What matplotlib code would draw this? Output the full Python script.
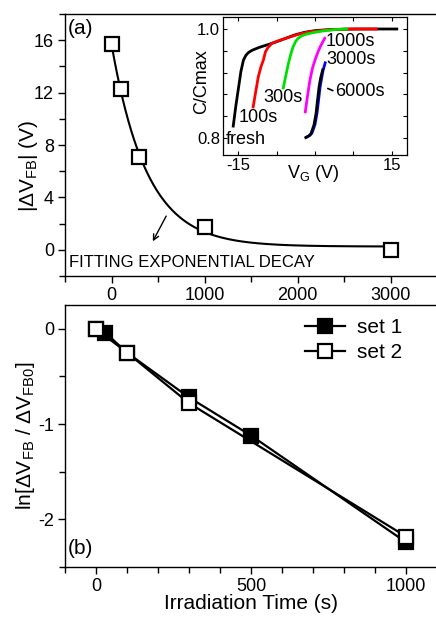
import numpy as np
import matplotlib
matplotlib.use("Agg")
import matplotlib.pyplot as plt
from matplotlib.ticker import MultipleLocator, FixedLocator

plt.rcParams['font.family'] = ['Liberation Sans', 'DejaVu Sans']
plt.rcParams['mathtext.fontset'] = 'custom'
plt.rcParams['mathtext.rm'] = 'Liberation Sans'
plt.rcParams['mathtext.it'] = 'Liberation Sans:italic'
plt.rcParams['mathtext.bf'] = 'Liberation Sans:bold'
plt.rcParams['axes.unicode_minus'] = False

# ---- panel (a) data ----
time_a = [0, 100, 300, 1000, 3000]
dvfb_a = [15.7, 12.3, 7.05, 1.76, 0.0]
fit_y0 = 0.25
fit_amp = 15.45
fit_tau = 380.0

# ---- inset C-V data ----
v_fresh = [-16.0, -15.5, -15.0, -14.5, -14.0, -13.5, -13.0, -12.3, -11.0, -10.0, -8.0, -6.0, -4.0, -2.0, 0.0, 3.0, 8.0, 16.0]
c_fresh = [0.822, 0.858, 0.890, 0.922, 0.943, 0.952, 0.957, 0.961, 0.966, 0.969, 0.975, 0.982, 0.989, 0.994, 0.997, 0.999, 1.0, 1.0]
v_100 = [-12.1, -11.6, -11.1, -10.6, -10.1, -9.7, -9.2, -8.4, -7.0, -5.0, -3.0, -1.0, 2.0, 6.0, 12.0]
c_100 = [0.857, 0.885, 0.912, 0.930, 0.943, 0.958, 0.966, 0.974, 0.979, 0.985, 0.991, 0.995, 0.998, 1.0, 1.0]
v_300 = [-6.2, -5.7, -5.2, -4.7, -4.3, -3.8, -3.3, -2.5, -1.5, 0.0, 2.0, 4.0, 6.2]
c_300 = [0.892, 0.915, 0.937, 0.955, 0.967, 0.977, 0.983, 0.988, 0.991, 0.994, 0.997, 0.999, 1.0]
v_1000 = [-1.9, -1.5, -1.0, -0.5, 0.0, 0.5, 1.0, 1.5, 1.9]
c_1000 = [0.848, 0.875, 0.906, 0.928, 0.943, 0.956, 0.967, 0.976, 0.983]
v_3000 = [-1.6, -1.0, -0.6, 0.0, 0.4, 0.7, 1.0, 1.3, 1.6, 2.0]
c_3000 = [0.802, 0.805, 0.809, 0.825, 0.846, 0.870, 0.894, 0.910, 0.925, 0.938]
v_6000 = [-1.8, -1.2, -0.8, -0.2, 0.2, 0.5, 0.8, 1.1, 1.5]
c_6000 = [0.801, 0.804, 0.808, 0.824, 0.845, 0.870, 0.894, 0.910, 0.925]
inset_xticks = [-15, 15]

# ---- panel (b) data ----
time_set1 = [0, 30, 100, 300, 500, 1000]
ln_set1 = [0.0, -0.04, -0.25, -0.72, -1.12, -2.24]
time_set2 = [0, 100, 300, 1000]
ln_set2 = [0.0, -0.25, -0.78, -2.18]

W, H = 436, 617
fig = plt.figure(figsize=(W / 100, H / 100), dpi=100)

def frac(left, top, right, bottom):
    return [left / W, 1 - bottom / H, (right - left) / W, (bottom - top) / H]

tick_fs = 13
lab_fs = 15

# ---------------- panel (a) ----------------
axa = fig.add_axes(frac(65, 14, 437, 276))
t_fit = np.linspace(0, 3000, 400)
axa.plot(t_fit, fit_y0 + fit_amp * np.exp(-t_fit / fit_tau), color='black', lw=1.5, zorder=2)
axa.plot(time_a, dvfb_a, linestyle='none', marker='s', ms=10, mfc='white', mec='black', mew=1.6, zorder=3)
axa.set_xlim(-500, 3500)
axa.set_ylim(-2, 18)
axa.xaxis.set_major_locator(MultipleLocator(1000))
axa.xaxis.set_minor_locator(MultipleLocator(500))
axa.yaxis.set_major_locator(MultipleLocator(4))
axa.yaxis.set_minor_locator(MultipleLocator(2))
axa.set_ylabel(r'|$\Delta$V$_{\mathrm{FB}}$| (V)', fontsize=lab_fs)
axa.yaxis.set_label_coords(-0.068, 0.42)
axa.text(-470, 16.9, '(a)', fontsize=lab_fs, ha='left', va='center')
axa.text(-462, -0.95, 'FITTING EXPONENTIAL DECAY', fontsize=12, ha='left', va='center')
axa.annotate('', xy=(430, 0.46), xytext=(602, 2.76),
             arrowprops=dict(arrowstyle='->', color='black', lw=1.0))

# ---------------- inset ----------------
axi = fig.add_axes(frac(223, 17, 407, 155))
axi.plot(v_fresh, c_fresh, color='black', lw=2)
axi.plot(v_100, c_100, color='red', lw=2)
axi.plot(v_300, c_300, color='#00e000', lw=2)
axi.plot(v_1000, c_1000, color='magenta', lw=2)
axi.plot(v_3000, c_3000, color='blue', lw=2)
axi.plot(v_6000, c_6000, color='black', lw=2)
axi.set_xlim(-18, 18)
axi.set_ylim(0.769, 1.022)
axi.xaxis.set_major_locator(FixedLocator(inset_xticks))
axi.xaxis.set_minor_locator(MultipleLocator(7.5))
axi.yaxis.set_major_locator(MultipleLocator(0.2))
axi.yaxis.set_minor_locator(MultipleLocator(0.04))
axi.tick_params(which='both', direction='in', top=True, right=True, labelsize=12, pad=2)
axi.tick_params(which='major', length=3, width=0.8)
axi.tick_params(which='minor', length=3, width=0.8)
axi.set_xlabel(r'V$_{\mathrm{G}}$ (V)', fontsize=13)
axi.xaxis.set_label_coords(0.49, -0.06)
axi.set_ylabel('C/Cmax', fontsize=13)
axi.yaxis.set_label_coords(-0.07, 0.53)
for s in axi.spines.values():
    s.set_linewidth(0.9)
axi.text(-17.4, 0.797, 'fresh', fontsize=13, ha='left', va='center')
axi.text(-15.0, 0.837, '100s', fontsize=13, ha='left', va='center')
axi.text(-10.2, 0.875, '300s', fontsize=13, ha='left', va='center')
axi.text(2.0, 0.977, '1000s', fontsize=13, ha='left', va='center')
axi.text(2.2, 0.944, '3000s', fontsize=13, ha='left', va='center')
axi.text(4.0, 0.885, '6000s', fontsize=13, ha='left', va='center')
axi.annotate('', xy=(2.0, 0.893), xytext=(4.0, 0.885),
             arrowprops=dict(arrowstyle='-', color='black', lw=1.2))

# ---------------- panel (b) ----------------
axb = fig.add_axes(frac(65, 305, 437, 567))
axb.plot(time_set1, ln_set1, color='black', lw=1.6, marker='s', ms=10,
         mfc='black', mec='black', mew=1.6, label='set 1', zorder=2)
axb.plot(time_set2, ln_set2, color='black', lw=1.6, marker='s', ms=10,
         mfc='white', mec='black', mew=1.6, label='set 2', zorder=3)
axb.set_xlim(-100, 1100)
axb.set_ylim(-2.5, 0.25)
axb.xaxis.set_major_locator(MultipleLocator(500))
axb.xaxis.set_minor_locator(MultipleLocator(100))
axb.yaxis.set_major_locator(MultipleLocator(1))
axb.yaxis.set_minor_locator(MultipleLocator(0.5))
axb.set_xlabel('Irradiation Time (s)', fontsize=lab_fs, labelpad=-1)
axb.set_ylabel(r'ln[$\Delta$V$_{\mathrm{FB}}$ / $\Delta$V$_{\mathrm{FB0}}$]', fontsize=lab_fs)
axb.yaxis.set_label_coords(-0.075, 0.5)
axb.text(-90, -2.31, '(b)', fontsize=lab_fs, ha='left', va='center')
axb.legend(loc='upper left', bbox_to_anchor=(240 / 372, (567 - 318) / 262), frameon=False,
           fontsize=lab_fs, handlelength=1.9, handletextpad=0.6, labelspacing=0.3,
           borderpad=0, borderaxespad=0)

for ax in (axa, axb):
    ax.tick_params(which='both', direction='out', top=False, right=False, labelsize=tick_fs, pad=3)
    ax.tick_params(which='major', length=5, width=1)
    ax.tick_params(which='minor', length=4, width=1)
    for s in ax.spines.values():
        s.set_linewidth(1.0)

fig.savefig('out.png', dpi=100)
